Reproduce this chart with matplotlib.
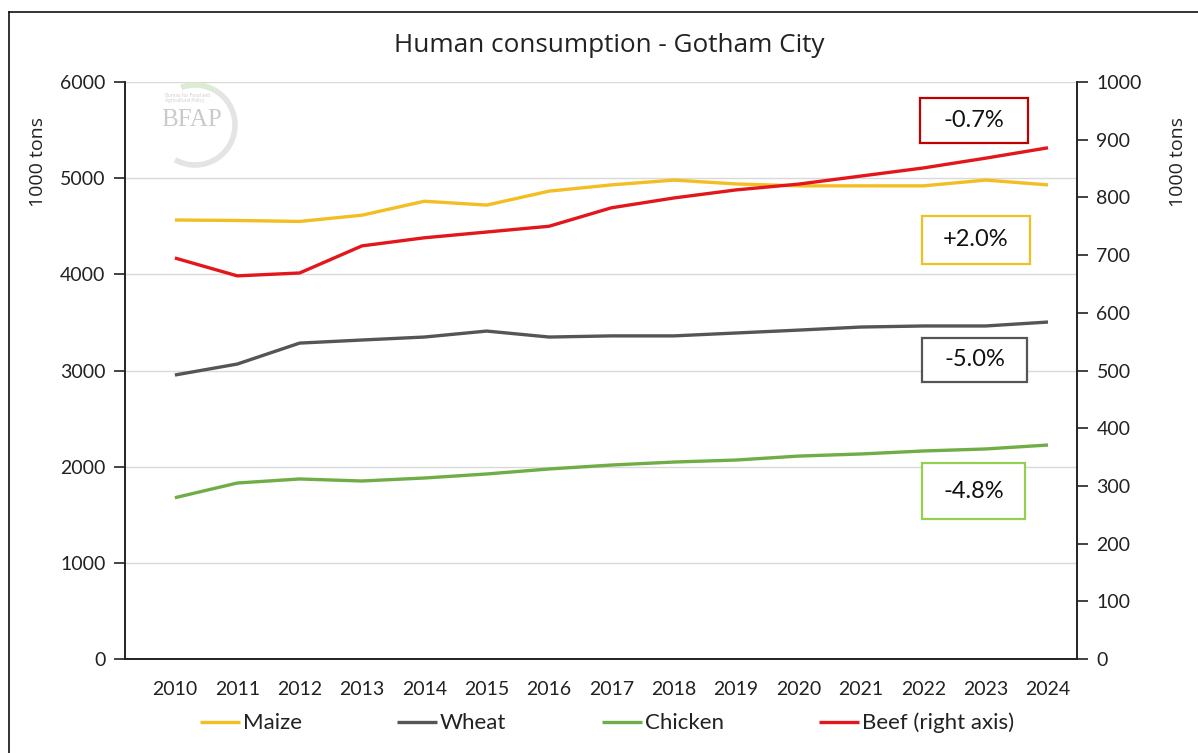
import matplotlib
matplotlib.use("Agg")
import matplotlib.pyplot as plt
from matplotlib.patches import Rectangle, Arc
from matplotlib.lines import Line2D

plt.rcParams['font.family'] = ['Lato', 'DejaVu Sans']

years = list(range(2010, 2025))
maize = [4565, 4560, 4550, 4615, 4760, 4720, 4865, 4930, 4980, 4940, 4920, 4920, 4920, 4980, 4930]
wheat = [2953, 3067, 3285, 3317, 3348, 3410, 3348, 3360, 3360, 3390, 3420, 3452, 3463, 3463, 3504]
chicken = [1677, 1830, 1872, 1851, 1882, 1924, 1976, 2017, 2048, 2069, 2110, 2132, 2163, 2184, 2225]
beef = [695, 664, 669, 716, 730, 740, 750, 782, 799, 813, 823, 837, 851, 868, 886]

changes = ["-0.7%", "+2.0%", "-5.0%", "-4.8%"]

c_maize = "#F2BE22"
c_wheat = "#555555"
c_chicken = "#70AD47"
c_beef = "#E3171B"

W, H = 1198, 753
fig = plt.figure(figsize=(W / 100, H / 100), dpi=100)
ax = fig.add_axes([125 / W, 1 - 659 / H, 952 / W, 577 / H])
ax2 = ax.twinx()

lw = 2.4
x = list(range(len(years)))
l1, = ax.plot(x, maize, color=c_maize, lw=lw, label="Maize", solid_capstyle="butt")
l2, = ax.plot(x, wheat, color=c_wheat, lw=lw, label="Wheat", solid_capstyle="butt")
l3, = ax.plot(x, chicken, color=c_chicken, lw=lw, label="Chicken", solid_capstyle="butt")
l4, = ax2.plot(x, beef, color=c_beef, lw=lw, label="Beef (right axis)", solid_capstyle="butt")

ax.set_xlim(-0.80, len(years) - 1 + 0.465)
ax.set_ylim(0, 6000)
ax2.set_ylim(0, 1000)
ax.set_yticks(range(0, 6001, 1000))
ax2.set_yticks(range(0, 1001, 100))
ax.set_xticks(x)
ax.set_xticklabels([str(y) for y in years])

ax.grid(axis="y", color="#D9D9D9", lw=1)
ax.set_axisbelow(True)

for a in (ax, ax2):
    a.spines["top"].set_visible(False)
    for s in ("left", "right", "bottom"):
        a.spines[s].set_color("#222222")
        a.spines[s].set_linewidth(1.2)
ax.tick_params(axis="y", labelsize=14, length=8, width=1.2, color="#222222", pad=6, labelcolor="#222222")
ax2.tick_params(axis="y", labelsize=14, length=8, width=1.2, color="#222222", pad=6, labelcolor="#222222")
ax.tick_params(axis="x", labelsize=14, length=0, pad=16, labelcolor="#222222")

# axis titles
fig.text(38 / W, 1 - 162 / H, "1000 tons", rotation=90, ha="center", va="center",
         fontsize=14, family="Open Sans", color="#222222")
fig.text(1178 / W, 1 - 162 / H, "1000 tons", rotation=90, ha="center", va="center",
         fontsize=14, family="Open Sans", color="#222222")

fig.text(609 / W, 1 - 46 / H, "Human consumption - Gotham City", ha="center", va="center",
         fontsize=18.8, family="Open Sans", color="#222222")

# change boxes
box_specs = [
    (changes[0], "#C00000", 920, 98, 1028, 143),
    (changes[1], "#F0C020", 922, 216, 1030, 264),
    (changes[2], "#555555", 922, 338, 1027, 382),
    (changes[3], "#92D050", 922, 463, 1025, 519),
]
for txt, col, x0, y0, x1, y1 in box_specs:
    fx0 = (x0 - 125) / 952
    fy0 = (659 - y1) / 577
    fw = (x1 - x0) / 952
    fh = (y1 - y0) / 577
    ax2.add_patch(Rectangle((fx0, fy0), fw, fh, transform=ax2.transAxes, fill=True,
                            facecolor="white", edgecolor=col, lw=1.6, zorder=5))
    ax2.text(fx0 + fw / 2, fy0 + fh / 2, txt, transform=ax2.transAxes, ha="center",
             va="center", fontsize=17, color="#111111", zorder=6)

# faint logo
fig.patches.append(Arc((195, H - 125), 80, 80, theta1=-120, theta2=60, transform=None,
                       edgecolor="#E4E4E4", lw=4, zorder=0))
fig.patches.append(Arc((195, H - 125), 80, 80, theta1=60, theta2=110, transform=None,
                       edgecolor="#DCEBD2", lw=4, zorder=0))
fig.text(165 / W, 1 - 98 / H, "Bureau for Food and\nAgricultural Policy", ha="left", va="center",
         fontsize=3.5, color="#D0D0D0", linespacing=1.0)
fig.text(192 / W, 1 - 120 / H, "BFAP", ha="center", va="center", fontsize=18,
         family="Liberation Serif", color="#CACACA")

leg = fig.legend(handles=[l1, l2, l3, l4], loc="center", bbox_to_anchor=(607 / W, 1 - 723 / H),
                 ncol=4, frameon=False, fontsize=16, handlelength=1.8, handletextpad=0.12,
                 columnspacing=4.3)
for t in leg.get_texts():
    t.set_color("#222222")

# chart frame
fig.add_artist(Line2D([9 / W, 9 / W], [0, 1 - 12 / H], color="#111111", lw=1.2))
fig.add_artist(Line2D([9 / W, 1], [1 - 12 / H, 1 - 12 / H], color="#111111", lw=1.2))

fig.savefig("out.png", dpi=100, facecolor="white")
